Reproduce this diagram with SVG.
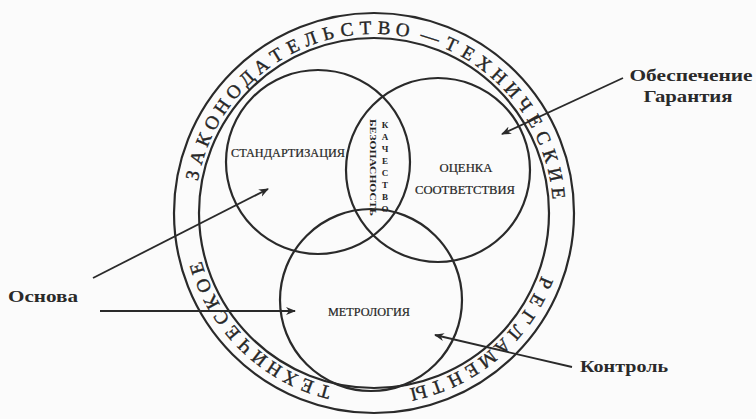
<svg xmlns="http://www.w3.org/2000/svg" width="756" height="419" viewBox="0 0 756 419">
  <defs>
    <style>
      .ln { fill: none; stroke: #2a2a2a; stroke-width: 2.2; }
      .ar { fill: none; stroke: #2a2a2a; stroke-width: 1.8; marker-end: url(#ah); }
      .ring { font-family: "Liberation Serif", "DejaVu Serif", serif; font-size: 19px; fill: #262626; stroke: #262626; stroke-width: 0.4; text-anchor: middle; }
      .lbl { font-family: "Liberation Serif", "DejaVu Serif", serif; font-size: 11.5px; fill: #262626; stroke: #262626; stroke-width: 0.2; }
      .out { font-family: "Liberation Serif", "DejaVu Serif", serif; font-size: 16px; font-weight: bold; fill: #2a2a2a; }
      .lens { font-family: "Liberation Serif", "DejaVu Serif", serif; font-size: 9px; font-weight: bold; fill: #262626; }
    </style>
    <marker id="ah" viewBox="0 0 10 10" refX="9" refY="5" markerWidth="10" markerHeight="10" markerUnits="userSpaceOnUse" orient="auto">
      <path d="M0,1 L10,5 L0,9 L3,5 Z" fill="#2a2a2a"/>
    </marker>
    <path id="rp" d="M553,213 A179,179 0 1 1 195,213 A179,179 0 1 1 553,213"/>
  </defs>
  <rect x="0" y="0" width="756" height="419" fill="#fbfbfb"/>

  <g id="ring">
    <circle class="ln" cx="374" cy="213" r="200"/>
    <circle class="ln" cx="374" cy="213" r="175"/>
    <g class="ring">
      <text><textPath href="#rp" startOffset="329.6">Т</textPath></text>
      <text><textPath href="#rp" startOffset="347.4">Е</textPath></text>
      <text><textPath href="#rp" startOffset="365.2">Х</textPath></text>
      <text><textPath href="#rp" startOffset="383.0">Н</textPath></text>
      <text><textPath href="#rp" startOffset="400.8">И</textPath></text>
      <text><textPath href="#rp" startOffset="418.8">Ч</textPath></text>
      <text><textPath href="#rp" startOffset="436.7">Е</textPath></text>
      <text><textPath href="#rp" startOffset="454.6">С</textPath></text>
      <text><textPath href="#rp" startOffset="472.4">К</textPath></text>
      <text><textPath href="#rp" startOffset="490.2">О</textPath></text>
      <text><textPath href="#rp" startOffset="508.0">Е</textPath></text>

      <text><textPath href="#rp" startOffset="598.9">З</textPath></text>
      <text><textPath href="#rp" startOffset="617.0">А</textPath></text>
      <text><textPath href="#rp" startOffset="635.1">К</textPath></text>
      <text><textPath href="#rp" startOffset="653.3">О</textPath></text>
      <text><textPath href="#rp" startOffset="671.5">Н</textPath></text>
      <text><textPath href="#rp" startOffset="689.8">О</textPath></text>
      <text><textPath href="#rp" startOffset="707.9">Д</textPath></text>
      <text><textPath href="#rp" startOffset="726.0">А</textPath></text>
      <text><textPath href="#rp" startOffset="744.2">Т</textPath></text>
      <text><textPath href="#rp" startOffset="762.3">Е</textPath></text>
      <text><textPath href="#rp" startOffset="780.4">Л</textPath></text>
      <text><textPath href="#rp" startOffset="798.5">Ь</textPath></text>
      <text><textPath href="#rp" startOffset="817.0">С</textPath></text>
      <text><textPath href="#rp" startOffset="835.1">Т</textPath></text>
      <text><textPath href="#rp" startOffset="853.2">В</textPath></text>
      <text><textPath href="#rp" startOffset="871.3">О</textPath></text>
      <text><textPath href="#rp" startOffset="898.5">—</textPath></text>
      <text><textPath href="#rp" startOffset="920.4">Т</textPath></text>
      <text><textPath href="#rp" startOffset="938.8">Е</textPath></text>
      <text><textPath href="#rp" startOffset="957.2">Х</textPath></text>
      <text><textPath href="#rp" startOffset="976.0">Н</textPath></text>
      <text><textPath href="#rp" startOffset="994.4">И</textPath></text>
      <text><textPath href="#rp" startOffset="1012.8">Ч</textPath></text>
      <text><textPath href="#rp" startOffset="1031.3">Е</textPath></text>
      <text><textPath href="#rp" startOffset="1049.7">С</textPath></text>
      <text><textPath href="#rp" startOffset="1068.4">К</textPath></text>
      <text><textPath href="#rp" startOffset="1086.9">И</textPath></text>
      <text><textPath href="#rp" startOffset="1105.3">Е</textPath></text>

      <text><textPath href="#rp" startOffset="69.4">Р</textPath></text>
      <text><textPath href="#rp" startOffset="88.1">Е</textPath></text>
      <text><textPath href="#rp" startOffset="106.8">Г</textPath></text>
      <text><textPath href="#rp" startOffset="125.3">Л</textPath></text>
      <text><textPath href="#rp" startOffset="144.0">А</textPath></text>
      <text><textPath href="#rp" startOffset="162.8">М</textPath></text>
      <text><textPath href="#rp" startOffset="181.5">Е</textPath></text>
      <text><textPath href="#rp" startOffset="199.9">Н</textPath></text>
      <text><textPath href="#rp" startOffset="218.7">Т</textPath></text>
      <text><textPath href="#rp" startOffset="237.4">Ы</textPath></text>
    </g>
  </g>

  <g id="standartizatsiya">
    <circle class="ln" cx="318" cy="162" r="92"/>
    <text class="lbl" x="288" y="157" text-anchor="middle" textLength="114" lengthAdjust="spacingAndGlyphs">СТАНДАРТИЗАЦИЯ</text>
  </g>
  <g id="otsenka">
    <circle class="ln" cx="438" cy="170" r="92"/>
    <text class="lbl" x="466" y="172" text-anchor="middle" textLength="53" lengthAdjust="spacingAndGlyphs">ОЦЕНКА</text>
    <text class="lbl" x="465" y="194" text-anchor="middle" textLength="100" lengthAdjust="spacingAndGlyphs">СООТВЕТСТВИЯ</text>
  </g>
  <g id="metrologiya">
    <circle class="ln" cx="371" cy="300" r="91"/>
    <text class="lbl" x="369" y="316" text-anchor="middle" textLength="82" lengthAdjust="spacingAndGlyphs">МЕТРОЛОГИЯ</text>
  </g>
  <g id="lens">
    <text class="lens" transform="translate(370,119) rotate(90)" x="0" y="0" textLength="97" lengthAdjust="spacingAndGlyphs">БЕЗОПАСНОСТЬ</text>
    <text class="lens" text-anchor="middle">
      <tspan x="385" y="128">К</tspan><tspan x="385" dy="12">А</tspan><tspan x="385" dy="12">Ч</tspan><tspan x="385" dy="12">Е</tspan><tspan x="385" dy="12">С</tspan><tspan x="385" dy="12">Т</tspan><tspan x="385" dy="12">В</tspan><tspan x="385" dy="12">О</tspan>
    </text>
  </g>

  <g id="label-obespechenie">
    <text class="out" x="691" y="81" text-anchor="middle" textLength="123" lengthAdjust="spacingAndGlyphs">Обеспечение</text>
    <text class="out" x="688" y="102" text-anchor="middle" textLength="89" lengthAdjust="spacingAndGlyphs">Гарантия</text>
  </g>
  <g id="label-osnova">
    <text class="out" x="43" y="302" text-anchor="middle" textLength="70" lengthAdjust="spacingAndGlyphs">Основа</text>
  </g>
  <g id="label-kontrol">
    <text class="out" x="624" y="372" text-anchor="middle" textLength="88" lengthAdjust="spacingAndGlyphs">Контроль</text>
  </g>

  <g id="connectors">
    <line class="ar" x1="623" y1="78" x2="502" y2="134"/>
    <line class="ar" x1="93" y1="278" x2="268" y2="189"/>
    <line class="ar" x1="100" y1="311" x2="295" y2="311"/>
    <line class="ar" x1="572" y1="367" x2="435" y2="335"/>
  </g>
</svg>
